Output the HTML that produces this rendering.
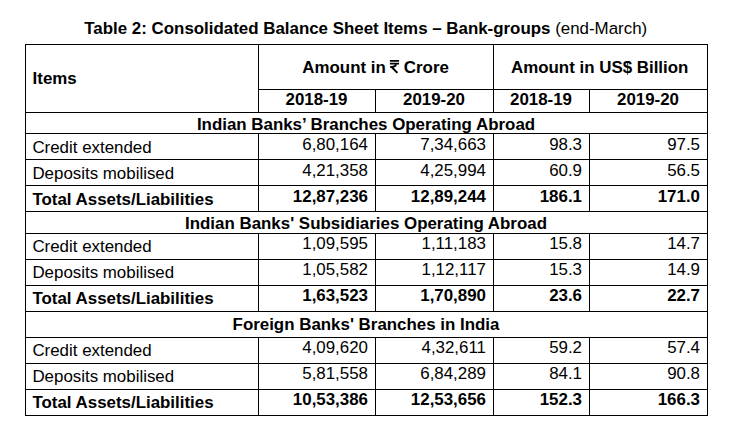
<!DOCTYPE html>
<html><head><meta charset="utf-8"><style>
html,body{margin:0;padding:0;background:#fff;width:744px;height:437px;overflow:hidden}
svg{display:block}
text{font-family:"Liberation Sans",sans-serif;font-size:16.9px;fill:#000}
</style></head><body>
<svg width="744" height="437" viewBox="0 0 744 437">
<g fill="#000">
<rect x="25" y="44" width="683" height="1"/>
<rect x="25" y="112" width="683" height="1"/>
<rect x="25" y="133" width="683" height="1"/>
<rect x="25" y="159" width="683" height="1"/>
<rect x="25" y="185" width="683" height="1"/>
<rect x="25" y="211" width="683" height="1"/>
<rect x="25" y="233" width="683" height="1"/>
<rect x="25" y="259" width="683" height="1"/>
<rect x="25" y="285" width="683" height="1"/>
<rect x="25" y="311" width="683" height="1"/>
<rect x="25" y="337" width="683" height="1"/>
<rect x="25" y="363" width="683" height="1"/>
<rect x="25" y="389" width="683" height="1"/>
<rect x="25" y="415" width="683" height="1"/>
<rect x="258" y="89" width="450" height="1"/>
<rect x="25" y="44" width="1" height="372"/>
<rect x="707" y="44" width="1" height="372"/>
<rect x="258" y="44" width="1" height="68"/>
<rect x="375" y="89" width="1" height="23"/>
<rect x="493" y="44" width="1" height="68"/>
<rect x="589" y="89" width="1" height="23"/>
<rect x="258" y="133" width="1" height="78"/>
<rect x="375" y="133" width="1" height="78"/>
<rect x="493" y="133" width="1" height="78"/>
<rect x="589" y="133" width="1" height="78"/>
<rect x="258" y="233" width="1" height="78"/>
<rect x="375" y="233" width="1" height="78"/>
<rect x="493" y="233" width="1" height="78"/>
<rect x="589" y="233" width="1" height="78"/>
<rect x="258" y="337" width="1" height="78"/>
<rect x="375" y="337" width="1" height="78"/>
<rect x="493" y="337" width="1" height="78"/>
<rect x="589" y="337" width="1" height="78"/>
<text x="84.3" y="34" font-weight="bold">Table 2: Consolidated Balance Sheet Items – Bank-groups<tspan font-weight="normal"> (end-March)</tspan></text>
<text x="32.6" y="84" font-weight="bold">Items</text>
<text x="302.3" y="73" font-weight="bold">Amount in</text>
<text x="403.8" y="73" font-weight="bold">Crore</text>
<path d="M389.9,59.9H399.1V61.7H389.9Z M389.9,62.8H399.1V64.4H389.9Z"/>
<path d="M395.9,64.2C395.9,66.6 394.2,67 390.2,67 M391.4,66.8L397.4,72.9" fill="none" stroke="#000" stroke-width="2"/>
<text x="599.7" y="73" text-anchor="middle" font-weight="bold">Amount in US$ Billion</text>
<text x="316.5" y="105" text-anchor="middle" font-weight="bold">2018-19</text>
<text x="434.0" y="105" text-anchor="middle" font-weight="bold">2019-20</text>
<text x="541.0" y="105" text-anchor="middle" font-weight="bold">2018-19</text>
<text x="648.0" y="105" text-anchor="middle" font-weight="bold">2019-20</text>
<text x="366.0" y="130" text-anchor="middle" font-weight="bold">Indian Banks’ Branches Operating Abroad</text>
<text x="32.4" y="153">Credit extended</text>
<text x="368" y="150" text-anchor="end">6,80,164</text>
<text x="486" y="150" text-anchor="end">7,34,663</text>
<text x="582" y="150" text-anchor="end">98.3</text>
<text x="700" y="150" text-anchor="end">97.5</text>
<text x="32.4" y="179">Deposits mobilised</text>
<text x="368" y="176" text-anchor="end">4,21,358</text>
<text x="486" y="176" text-anchor="end">4,25,994</text>
<text x="582" y="176" text-anchor="end">60.9</text>
<text x="700" y="176" text-anchor="end">56.5</text>
<text x="32.4" y="205" font-weight="bold">Total Assets/Liabilities</text>
<text x="368" y="202" text-anchor="end" font-weight="bold">12,87,236</text>
<text x="486" y="202" text-anchor="end" font-weight="bold">12,89,244</text>
<text x="582" y="202" text-anchor="end" font-weight="bold">186.1</text>
<text x="700" y="202" text-anchor="end" font-weight="bold">171.0</text>
<text x="366.0" y="229" text-anchor="middle" font-weight="bold">Indian Banks' Subsidiaries Operating Abroad</text>
<text x="32.4" y="252">Credit extended</text>
<text x="368" y="249" text-anchor="end">1,09,595</text>
<text x="486" y="249" text-anchor="end">1,11,183</text>
<text x="582" y="249" text-anchor="end">15.8</text>
<text x="700" y="249" text-anchor="end">14.7</text>
<text x="32.4" y="278">Deposits mobilised</text>
<text x="368" y="275" text-anchor="end">1,05,582</text>
<text x="486" y="275" text-anchor="end">1,12,117</text>
<text x="582" y="275" text-anchor="end">15.3</text>
<text x="700" y="275" text-anchor="end">14.9</text>
<text x="32.4" y="304" font-weight="bold">Total Assets/Liabilities</text>
<text x="368" y="301" text-anchor="end" font-weight="bold">1,63,523</text>
<text x="486" y="301" text-anchor="end" font-weight="bold">1,70,890</text>
<text x="582" y="301" text-anchor="end" font-weight="bold">23.6</text>
<text x="700" y="301" text-anchor="end" font-weight="bold">22.7</text>
<text x="366.0" y="330" text-anchor="middle" font-weight="bold">Foreign Banks' Branches in India</text>
<text x="32.4" y="356">Credit extended</text>
<text x="368" y="353" text-anchor="end">4,09,620</text>
<text x="486" y="353" text-anchor="end">4,32,611</text>
<text x="582" y="353" text-anchor="end">59.2</text>
<text x="700" y="353" text-anchor="end">57.4</text>
<text x="32.4" y="382">Deposits mobilised</text>
<text x="368" y="379" text-anchor="end">5,81,558</text>
<text x="486" y="379" text-anchor="end">6,84,289</text>
<text x="582" y="379" text-anchor="end">84.1</text>
<text x="700" y="379" text-anchor="end">90.8</text>
<text x="32.4" y="408" font-weight="bold">Total Assets/Liabilities</text>
<text x="368" y="405" text-anchor="end" font-weight="bold">10,53,386</text>
<text x="486" y="405" text-anchor="end" font-weight="bold">12,53,656</text>
<text x="582" y="405" text-anchor="end" font-weight="bold">152.3</text>
<text x="700" y="405" text-anchor="end" font-weight="bold">166.3</text>
</g>
</svg>
</body></html>
